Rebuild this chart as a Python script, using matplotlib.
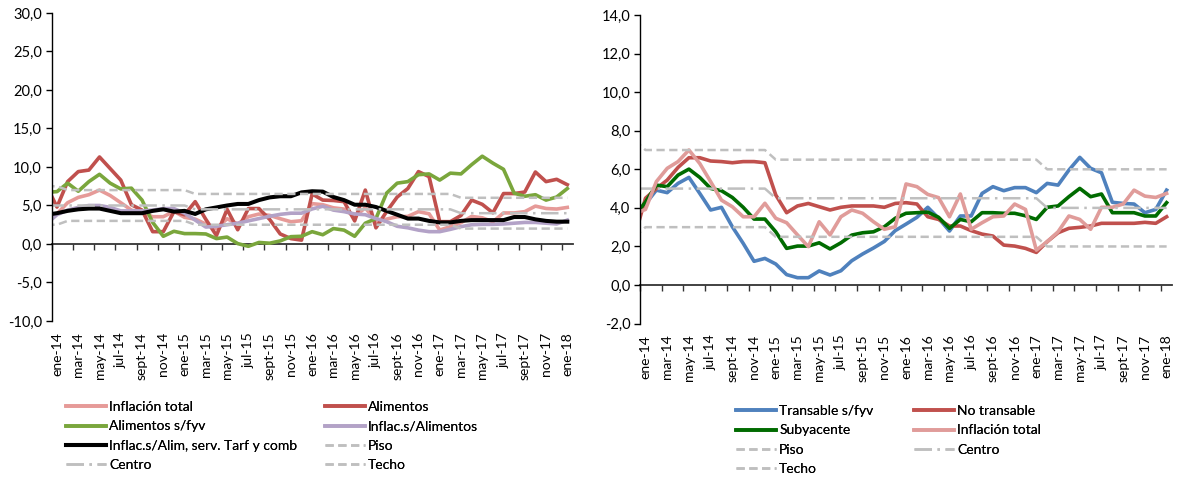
import numpy as np
import matplotlib
matplotlib.use("Agg")
import matplotlib.pyplot as plt

plt.rcParams['font.family'] = ['Lato', 'DejaVu Sans']

# ---------------- data (dic-13 ... ene-18) ----------------
tick_labels = ["ene-14", "mar-14", "may-14", "jul-14", "sept-14", "nov-14",
               "ene-15", "mar-15", "may-15", "jul-15", "sept-15", "nov-15",
               "ene-16", "mar-16", "may-16", "jul-16", "sept-16", "nov-16",
               "ene-17", "mar-17", "may-17", "jul-17", "sept-17", "nov-17",
               "ene-18"]

# left panel
inflacion_total = [3.7, 3.92, 5.36, 6.05, 6.4, 7.0, 6.3, 5.36, 4.4, 4.06, 3.54,
                   3.54, 4.24, 3.46, 3.23, 2.6, 1.99, 3.28, 2.6, 3.54, 3.89,
                   3.72, 3.28, 2.89, 3.02, 5.24, 5.10, 4.70, 4.53, 3.54, 4.72,
                   2.89, 3.23, 3.54, 3.58, 4.20, 3.92, 1.81, 2.25, 2.76, 3.58,
                   3.40, 2.89, 4.03, 4.03, 4.20, 4.92, 4.61, 4.54, 4.75]
alimentos = [7.6, 4.8, 8.1, 9.4, 9.6, 11.3, 9.8, 8.3, 5.1, 4.4, 1.6,
             1.6, 4.2, 3.8, 5.5, 3.2, 1.1, 4.5, 1.85, 4.6, 4.6,
             3.2, 1.3, 0.7, 0.5, 6.5, 5.7, 5.65, 5.5, 3.0, 7.0,
             2.1, 4.2, 6.1, 7.2, 9.4, 8.75, 2.9, 2.9, 3.7, 5.7,
             5.15, 4.05, 6.55, 6.55, 6.75, 9.35, 8.1, 8.4, 7.7]
alimentos_sfyv = [6.7, 6.8, 7.9, 6.85, 8.1, 9.05, 7.9, 7.15, 7.25, 5.7, 2.8,
                  1.0, 1.65, 1.35, 1.35, 1.3, 0.7, 0.9, 0.05, -0.3, 0.2,
                  0.1, 0.4, 0.95, 1.0, 1.6, 1.2, 2.0, 1.8, 1.0, 2.7,
                  3.3, 6.6, 7.9, 8.1, 9.0, 9.1, 8.3, 9.2, 9.1, 10.3,
                  11.4, 10.5, 9.7, 6.6, 6.2, 6.4, 5.7, 6.1, 7.2]
inflac_s_alim = [2.6, 3.8, 4.4, 4.75, 5.0, 5.0, 4.75, 4.3, 4.3, 4.3, 4.4,
                 4.6, 4.6, 4.0, 3.1, 2.2, 2.3, 2.5, 2.7, 3.0, 3.3,
                 3.6, 3.85, 4.0, 4.0, 4.55, 4.9, 4.4, 4.2, 3.9, 3.8,
                 3.3, 2.9, 2.3, 2.1, 1.8, 1.6, 1.6, 1.9, 2.25, 2.5,
                 2.55, 2.55, 2.6, 2.7, 2.8, 2.8, 2.7, 2.6, 3.1]
inflac_s_alim_serv = [3.8, 4.0, 4.3, 4.5, 4.6, 4.6, 4.3, 4.0, 4.0, 4.0, 4.3,
                      4.5, 4.2, 4.3, 3.9, 4.5, 4.75, 5.0, 5.2, 5.2, 5.7,
                      6.05, 6.2, 6.2, 6.7, 6.85, 6.8, 6.1, 5.7, 5.1, 5.1,
                      4.8, 4.3, 3.8, 3.3, 3.3, 3.0, 2.8, 2.8, 3.0, 3.1,
                      3.1, 3.1, 3.1, 3.5, 3.5, 3.2, 3.0, 2.9, 2.9]
piso_izq = [2.5] * 2 + [3.0] * 12 + [2.5] * 25 + [2.0] * 11
centro_izq = [5.0] * 14 + [4.5] * 25 + [4.0] * 11
techo_izq = [7.5] * 2 + [7.0] * 12 + [6.5] * 25 + [6.0] * 11

# right panel
transable_sfyv = [3.3, 4.2, 4.92, 4.79, 5.27, 5.58, 4.75, 3.89, 4.03, 3.02, 2.16,
                  1.23, 1.38, 1.09, 0.54, 0.38, 0.38, 0.73, 0.52, 0.74, 1.26,
                  1.61, 1.92, 2.26, 2.82, 3.16, 3.51, 4.03, 3.46, 2.80, 3.58,
                  3.58, 4.75, 5.10, 4.89, 5.05, 5.05, 4.79, 5.27, 5.18, 5.96,
                  6.62, 6.05, 5.82, 4.29, 4.23, 4.20, 3.75, 3.92, 4.92]
no_transable = [2.5, 4.5, 5.0, 5.44, 6.1, 6.6, 6.6, 6.43, 6.4, 6.34, 6.4,
                6.4, 6.34, 4.67, 3.75, 4.1, 4.23, 4.06, 3.89, 4.03, 4.1,
                4.1, 4.1, 4.03, 4.23, 4.27, 4.20, 3.54, 3.40, 3.06, 3.06,
                2.82, 2.64, 2.54, 2.07, 2.02, 1.90, 1.69, 2.25, 2.71, 2.94,
                2.99, 3.06, 3.20, 3.20, 3.20, 3.20, 3.25, 3.20, 3.54]
subyacente = [3.6, 4.3, 5.18, 5.10, 5.70, 6.01, 5.58, 5.01, 4.89, 4.54, 4.03,
              3.42, 3.42, 2.76, 1.90, 2.02, 2.02, 2.19, 1.87, 2.19, 2.59,
              2.71, 2.76, 3.02, 3.46, 3.72, 3.75, 3.78, 3.51, 2.94, 3.40,
              3.28, 3.75, 3.75, 3.72, 3.72, 3.59, 3.40, 4.03, 4.10, 4.58,
              5.01, 4.58, 4.72, 3.75, 3.75, 3.75, 3.58, 3.58, 4.27]
piso_der = [2.5] + [3.0] * 12 + [2.5] * 25 + [2.0] * 12
centro_der = [5.0] * 13 + [4.5] * 25 + [4.0] * 12
techo_der = [7.5] + [7.0] * 12 + [6.5] * 25 + [6.0] * 12

# ---------------- styling ----------------
GREY = "#BFBFBF"
DASH = (0, (3.3, 1.8))
DASHDOT = (0, (7.0, 2.2, 1.0, 2.2))
LW = 2.6

fig = plt.figure(figsize=(11.77, 4.78), dpi=100)
axL = fig.add_axes([0.0439, 0.3285, 0.4426, 0.6443])
axR = fig.add_axes([0.5438, 0.323, 0.4520, 0.6456])

x = np.arange(len(inflacion_total)) - 1  # dic-13 at -1, ene-14 at 0


def setup(ax, ymin, ymax, ystep):
    ax.set_xlim(-0.5, 48.5)
    ax.set_ylim(ymin, ymax)
    yt = np.arange(ymin, ymax + ystep / 2, ystep)
    ax.set_yticks(yt)
    ax.set_yticklabels([f"{v:.1f}".replace(".", ",") for v in yt], fontsize=10.5)
    for s in ("top", "right", "bottom"):
        ax.spines[s].set_visible(False)
    ax.spines["left"].set_linewidth(1.0)
    ax.tick_params(axis="y", direction="out", length=4, width=1, pad=3)
    ax.set_xticks(np.arange(0, 49, 2))
    ax.set_xticklabels(tick_labels, rotation=90, fontsize=10)
    ax.tick_params(axis="x", length=0, pad=8)
    zero_frac = (0 - ymin) / (ymax - ymin)
    sec = ax.secondary_xaxis(zero_frac)
    sec.set_xticks(np.arange(-0.5, 48, 2))
    sec.set_xticklabels([])
    sec.tick_params(direction="out", length=4, width=1, color="#333333")
    sec.spines["bottom"].set_linewidth(1.3)
    sec.spines["bottom"].set_color("#333333")


setup(axL, -10, 30, 5)
setup(axR, -2, 14, 2)

# left lines
hL = {}
hL["Inflación total"], = axL.plot(x, inflacion_total, color="#E69A98", lw=LW)
hL["Alimentos"], = axL.plot(x, alimentos, color="#C0504D", lw=LW)
hL["Alimentos s/fyv"], = axL.plot(x, alimentos_sfyv, color="#7AA63C", lw=LW)
hL["Inflac.s/Alimentos"], = axL.plot(x, inflac_s_alim, color="#B3A2C7", lw=LW)
hL["Inflac.s/Alim, serv. Tarf y comb"], = axL.plot(x, inflac_s_alim_serv, color="black", lw=LW + 0.3)
hL["Piso"], = axL.plot(x, piso_izq, color=GREY, lw=1.8, ls=DASH)
hL["Centro"], = axL.plot(x, centro_izq, color=GREY, lw=1.8, ls=DASHDOT)
hL["Techo"], = axL.plot(x, techo_izq, color=GREY, lw=1.8, ls=DASH)

# right lines
hR = {}
hR["Transable s/fyv"], = axR.plot(x, transable_sfyv, color="#4F81BD", lw=LW)
hR["No transable"], = axR.plot(x, no_transable, color="#C0504D", lw=LW)
hR["Subyacente"], = axR.plot(x, subyacente, color="#006B00", lw=LW)
hR["Inflación total"], = axR.plot(x, inflacion_total, color="#E09C9A", lw=LW)
hR["Piso"], = axR.plot(x, piso_der, color=GREY, lw=1.8, ls=DASH)
hR["Centro"], = axR.plot(x, centro_der, color=GREY, lw=1.8, ls=DASHDOT)
hR["Techo"], = axR.plot(x, techo_der, color=GREY, lw=1.8, ls=DASH)


def col_legend(handles_dict, names, xpix, ytop_pix):
    leg = fig.legend([handles_dict[n] for n in names], names,
                     loc="upper left", bbox_to_anchor=(xpix / 1177, 1 - ytop_pix / 478),
                     frameon=False, fontsize=10, handlelength=2.9, handletextpad=0.2,
                     labelspacing=0.53, borderpad=0, borderaxespad=0)
    fig.add_artist(leg)


col_legend(hL, ["Inflación total", "Alimentos s/fyv", "Inflac.s/Alim, serv. Tarf y comb", "Centro"], 66, 401)
col_legend(hL, ["Alimentos", "Inflac.s/Alimentos", "Piso", "Techo"], 325, 401)
col_legend(hR, ["Transable s/fyv", "Subyacente", "Piso", "Techo"], 736, 405)
col_legend(hR, ["No transable", "Inflación total", "Centro"], 914, 405)

fig.savefig("out.png", dpi=100)
